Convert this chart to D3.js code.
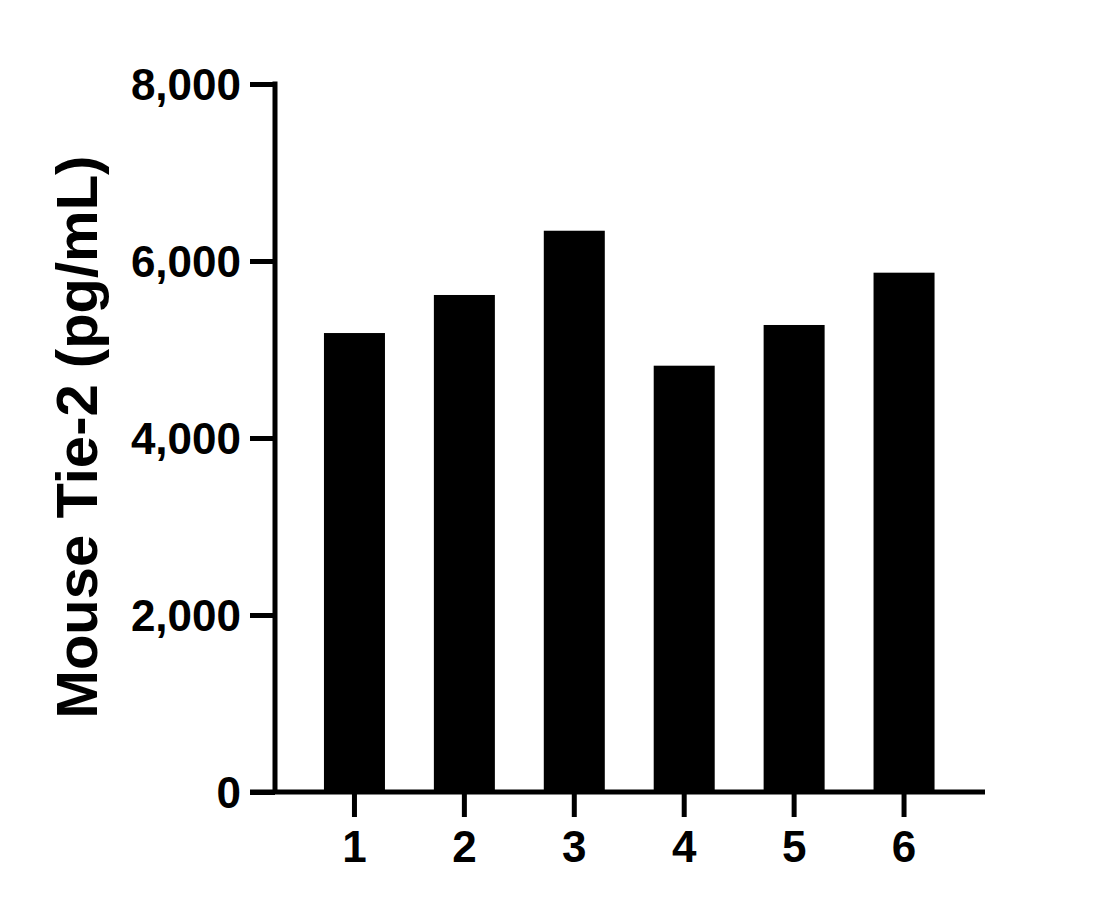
<!DOCTYPE html>
<html>
<head>
<meta charset="utf-8">
<script src="https://cdn.jsdelivr.net/npm/d3@7"></script>
<style>
  body { margin: 0; background: #fff; }
  svg { display: block; }
  .axis text { font-family: "Liberation Sans", Arial, sans-serif; font-weight: bold; fill: #000; }
</style>
</head>
<body>
<svg id="chart" width="1117" height="909"></svg>
<script>
// data
const categories = ['1', '2', '3', '4', '5', '6'];
const values = [5186, 5616, 6342, 4817, 5277, 5868];
const yTicks = [0, 2000, 4000, 6000, 8000];
const yTitle = 'Mouse Tie-2 (pg/mL)';

const svg = d3.select('#chart');

// plot area
const plotLeft = 275, plotBottom = 792, plotTop = 84;

const x = d3.scaleBand()
  .domain(categories)
  .range([299.5, 959])
  .paddingInner(0.445)
  .paddingOuter(0.2225);

const y = d3.scaleLinear()
  .domain([0, 8000])
  .range([plotBottom, plotTop]);

// bars first, axes drawn over them
svg.append('g')
  .selectAll('rect')
  .data(values)
  .enter()
  .append('rect')
  .attr('x', (d, i) => x(categories[i]))
  .attr('y', d => y(d))
  .attr('width', x.bandwidth())
  .attr('height', d => plotBottom - y(d))
  .attr('fill', '#000');

// y axis
const yAxis = d3.axisLeft(y)
  .tickValues(yTicks)
  .tickFormat(d3.format(','))
  .tickSizeInner(25)
  .tickSizeOuter(0)
  .tickPadding(9);

const gy = svg.append('g')
  .attr('class', 'axis axis-y')
  .attr('transform', 'translate(' + plotLeft + ',0)')
  .call(yAxis);
gy.select('.domain').attr('stroke', '#000').attr('stroke-width', 5)
  .attr('d', 'M0,' + (plotTop - 2.5) + 'V' + plotBottom);
gy.selectAll('.tick line').attr('stroke', '#000').attr('stroke-width', 5);
gy.selectAll('.tick text').attr('font-size', 44).attr('dy', '0.36em');

// x axis
const xAxis = d3.axisBottom(x)
  .tickSizeInner(25)
  .tickSizeOuter(0)
  .tickPadding(14);

const gx = svg.append('g')
  .attr('class', 'axis axis-x')
  .attr('transform', 'translate(0,' + plotBottom + ')')
  .call(xAxis);
gx.select('.domain').attr('stroke', '#000').attr('stroke-width', 5)
  .attr('d', 'M250,0H985');
gx.selectAll('.tick line').attr('stroke', '#000').attr('stroke-width', 5);
gx.selectAll('.tick text').attr('font-size', 44).attr('dy', '0.71em');

// y title
svg.append('text')
  .attr('transform', 'translate(97,437) rotate(-90)')
  .attr('text-anchor', 'middle')
  .attr('font-family', '"Liberation Sans", Arial, sans-serif')
  .attr('font-weight', 'bold')
  .attr('font-size', 58)
  .attr('fill', '#000')
  .text(yTitle);
</script>
</body>
</html>
